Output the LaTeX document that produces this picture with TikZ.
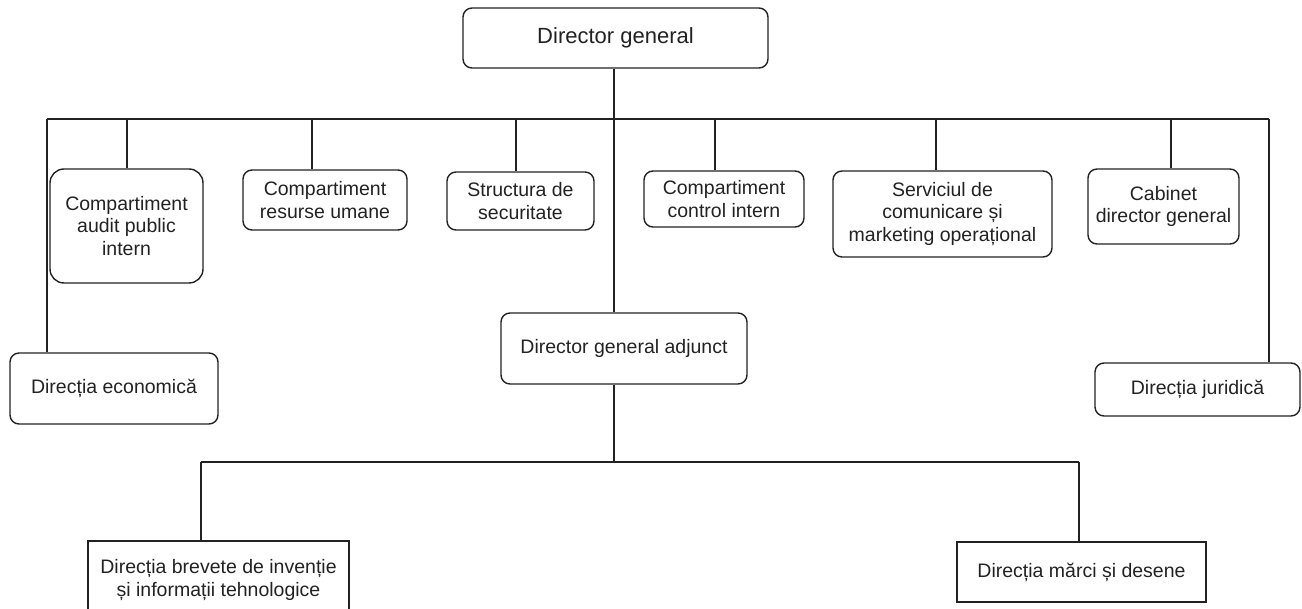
\documentclass[tikz,border=0pt]{standalone}
\usepackage{fontspec}
\setmainfont{Liberation Sans}
\definecolor{ink}{HTML}{222222}
\begin{document}
\begin{tikzpicture}[x=1pt,y=-1pt,
  box/.style={draw=ink, line width=1.4pt, rounded corners=9pt, inner sep=0pt,
    align=center, text=ink, font=\fontsize{19.5}{22.5}\selectfont},
  sqbox/.style={box, rounded corners=0pt},
  link/.style={draw=ink, line width=1.4pt},
  mainlink/.style={draw=ink, line width=2.2pt}]
\useasboundingbox (0,0) rectangle (1302,609);

% top
\node[box, minimum width=305pt, minimum height=60pt, font=\fontsize{22}{25}\selectfont] (dg) at (615.5,38) {Director general};

% first level
\node[box, rounded corners=14pt, minimum width=153pt, minimum height=114pt] (aud) at (126.5,226) {Compartiment\\audit public\\intern};
\node[box, minimum width=164pt, minimum height=60pt] (res) at (325,200) {Compartiment\\resurse umane};
\node[box, minimum width=147pt, minimum height=58pt] (str) at (520.5,201) {Structura de\\securitate};
\node[box, minimum width=160pt, minimum height=56pt] (ctl) at (724,199) {Compartiment\\control intern};
\node[box, minimum width=219pt, minimum height=86pt] (ser) at (942.5,214) {Serviciul de\\comunicare și\\marketing operațional};
\node[box, minimum width=151pt, minimum height=75pt] (cab) at (1163.5,206.5) {Cabinet\\director general};

\node[box, minimum width=208pt, minimum height=71pt] (eco) at (114,388.5) {Direcția economică};
\node[box, minimum width=246pt, minimum height=71pt] (dga) at (624,348.5) {Director general adjunct};
\node[box, minimum width=205pt, minimum height=53pt] (jur) at (1197.5,389.5) {Direcția juridică};

% bottom
\node[sqbox, minimum width=261pt, minimum height=78pt] (brev) at (218.5,580) {Direcția brevete de invenție\\și informații tehnologice};
\node[sqbox, minimum width=249pt, minimum height=60pt] (marc) at (1081.5,572) {Direcția mărci și desene};

% junction coordinates
\coordinate (j0) at (614,119);
\coordinate (busL) at (47,119);
\coordinate (busR) at (1269,119);
\coordinate (t1) at (127,119);
\coordinate (t2) at (312,119);
\coordinate (t3) at (516,119);
\coordinate (t4) at (715,119);
\coordinate (t5) at (936,119);
\coordinate (t6) at (1171,119);
\coordinate (j1) at (614,462);
\coordinate (bL) at (201,462);
\coordinate (bR) at (1079,462);

% connectors
\draw[mainlink] (dg.south -| j0) -- (j0);
\draw[link] (busL) -- (busR);
\draw[link] (busL) -- (busL |- eco.north);
\draw[link] (busR) -- (busR |- jur.north);
\draw[link] (t1) -- (t1 |- aud.north);
\draw[link] (t2) -- (t2 |- res.north);
\draw[link] (t3) -- (t3 |- str.north);
\draw[link] (t4) -- (t4 |- ctl.north);
\draw[link] (t5) -- (t5 |- ser.north);
\draw[link] (t6) -- (t6 |- cab.north);
\draw[link] (j0) -- (j0 |- dga.north);
\draw[link] (j0 |- dga.south) -- (j1);
\draw[link] (bL) -- (bR);
\draw[link] (bL) -- (bL |- brev.north);
\draw[link] (bR) -- (bR |- marc.north);
\end{tikzpicture}
\end{document}
